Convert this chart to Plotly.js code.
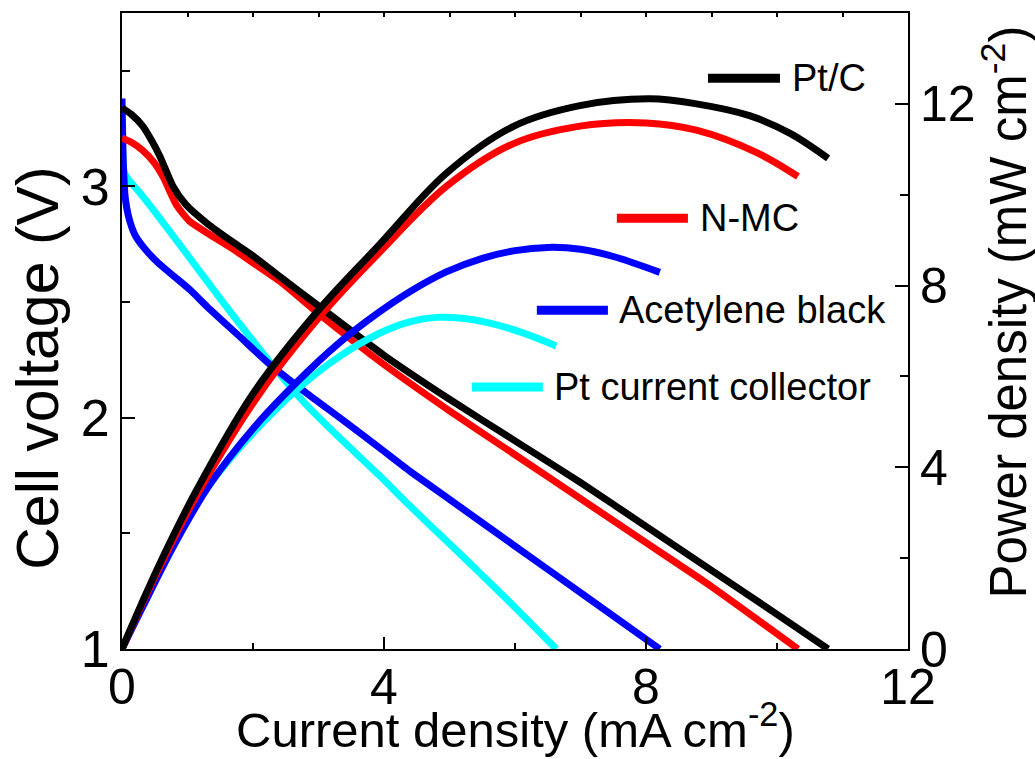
<!DOCTYPE html>
<html>
<head>
<meta charset="utf-8">
<script src="https://cdn.plot.ly/plotly-3.0.1.min.js"></script>
<style>html,body{margin:0;padding:0;background:#fff;}#chart{width:1035px;height:759px;}</style>
</head>
<body>
<div id="chart"></div>
<script>
// ---- Data ----
const seriesNames = ["Pt/C", "N-MC", "Acetylene black", "Pt current collector"];
const seriesColors = ["#000000", "#ff0000", "#0000ff", "#00ffff"];

// Cell voltage (V) vs current density (mA cm-2)
const ptcVoltI = [0, 0.15, 0.32, 0.45, 0.58, 0.78, 0.98, 1.3, 1.69, 2.0, 2.41, 2.97, 4.0, 5.0, 6.0, 7.0, 8.0, 9.0, 10.0, 10.78];
const ptcVolt  = [3.34, 3.31, 3.26, 3.20, 3.13, 3.00, 2.92, 2.84, 2.76, 2.70, 2.61, 2.49, 2.27, 2.08, 1.90, 1.72, 1.53, 1.34, 1.15, 1.0];

const nmcVoltI = [0, 0.15, 0.32, 0.5, 0.63, 0.83, 1.03, 1.35, 1.69, 2.0, 2.41, 3.0, 4.0, 5.0, 6.0, 7.0, 8.0, 9.0, 10.32];
const nmcVolt  = [3.21, 3.19, 3.155, 3.10, 3.04, 2.92, 2.85, 2.79, 2.73, 2.67, 2.59, 2.45, 2.23, 2.03, 1.84, 1.65, 1.46, 1.27, 1.0];

const abVoltI = [0, 0.02, 0.05, 0.1, 0.2, 0.35, 0.55, 0.8, 1.05, 1.3, 1.8, 2.26, 2.8, 3.37, 3.93, 4.39, 5.0, 6.0, 7.0, 8.21];
const abVolt  = [3.38, 3.10, 2.95, 2.87, 2.79, 2.73, 2.67, 2.61, 2.55, 2.48, 2.35, 2.23, 2.11, 1.99, 1.87, 1.77, 1.647, 1.445, 1.244, 1.0];

const pccVoltI = [0, 0.015, 0.035, 0.1, 0.25, 0.42, 0.93, 1.54, 2.26, 2.8, 3.37, 3.93, 4.39, 5.0, 5.46, 6.0, 6.63];
const pccVolt  = [3.23, 3.12, 3.06, 3.03, 2.98, 2.92, 2.73, 2.50, 2.24, 2.06, 1.90, 1.75, 1.62, 1.455, 1.33, 1.18, 1.0];

// Power density (mW cm-2) vs current density (mA cm-2)
const ptcPowI = [0, 0.3, 0.6, 1.14, 2.0, 2.97, 3.93, 4.95, 5.97, 6.99, 8.06, 8.77, 9.58, 10.2, 10.78];
const ptcPow  = [0, 1.0, 1.95, 3.5, 5.62, 7.41, 8.9, 10.47, 11.5, 11.96, 12.11, 12.0, 11.74, 11.35, 10.8];

const nmcPowI = [0, 0.3, 0.6, 1.14, 2.1, 3.07, 3.95, 4.95, 5.97, 6.99, 8.0, 8.77, 9.7, 10.32];
const nmcPow  = [0, 0.97, 1.88, 3.38, 5.62, 7.4, 8.76, 10.18, 11.12, 11.51, 11.58, 11.42, 10.92, 10.4];

const abPowI = [0, 0.3, 0.8, 1.34, 2.0, 2.66, 3.3, 3.93, 4.4, 4.95, 5.5, 6.0, 6.5, 7.0, 7.5, 8.21];
const abPow  = [0, 0.88, 2.3, 3.62, 4.85, 5.86, 6.72, 7.42, 7.87, 8.3, 8.6, 8.77, 8.84, 8.8, 8.64, 8.29];

const pccPowI = [0, 0.3, 0.83, 1.3, 1.85, 2.3, 2.66, 3.3, 3.93, 4.39, 4.8, 5.2, 5.6, 6.1, 6.63];
const pccPow  = [0, 0.97, 2.5, 3.55, 4.52, 5.2, 5.7, 6.42, 6.95, 7.2, 7.3, 7.28, 7.18, 6.97, 6.67];

// Axis ticks
const xTicks = [0, 4, 8, 12];
const yLeftTicks = [1, 2, 3];
const yRightTicks = [0, 4, 8, 12];

// ---- Chart ----
const FONT = "Liberation Sans, Arial, Helvetica, sans-serif";
const LW = 7;

const voltI = [ptcVoltI, nmcVoltI, abVoltI, pccVoltI];
const voltV = [ptcVolt, nmcVolt, abVolt, pccVolt];
const powI = [ptcPowI, nmcPowI, abPowI, pccPowI];
const powP = [ptcPow, nmcPow, abPow, pccPow];

const traces = [];
// draw in reverse order so black ends on top
for (let k = 3; k >= 0; k--) {
  traces.push({x: voltI[k], y: voltV[k], type: "scatter", mode: "lines", name: seriesNames[k],
    line: {color: seriesColors[k], width: LW, shape: "spline", smoothing: 0.6}, xaxis: "x", yaxis: "y", showlegend: false, hoverinfo: "skip"});
  traces.push({x: powI[k], y: powP[k], type: "scatter", mode: "lines", name: seriesNames[k],
    line: {color: seriesColors[k], width: LW, shape: "spline", smoothing: 1}, xaxis: "x", yaxis: "y2", showlegend: false, hoverinfo: "skip"});
}

// Legend layout (paper coords)
const legLineX0 = [0.7455, 0.6296, 0.5278, 0.4451];
const legLineX1 = [0.8371, 0.7200, 0.6182, 0.5354];
const legY = [0.8974, 0.6774, 0.5328, 0.4118];
const legTextX = [0.8500, 0.7330, 0.6300, 0.5470];

const shapes = [];
const annotations = [];
for (let k = 0; k < 4; k++) {
  shapes.push({type: "line", xref: "paper", yref: "paper", x0: legLineX0[k], x1: legLineX1[k], y0: legY[k], y1: legY[k],
    line: {color: seriesColors[k], width: 9}});
  annotations.push({xref: "paper", yref: "paper", x: legTextX[k], y: legY[k], xanchor: "left", yanchor: "middle",
    text: seriesNames[k], showarrow: false, font: {family: FONT, size: 38, color: "#000"}});
}
annotations.push({xref: "paper", yref: "paper", x: 0.501, y: -0.121, xanchor: "center", yanchor: "middle",
  text: "Current density (mA cm<sup>-2</sup>)", showarrow: false, font: {family: FONT, size: 49, color: "#000"}});
annotations.push({xref: "paper", yref: "paper", x: -0.107, y: 0.442, xanchor: "center", yanchor: "middle", textangle: -90,
  text: "Cell voltage (V)", showarrow: false, font: {family: FONT, size: 59, color: "#000"}});
annotations.push({xref: "paper", yref: "paper", x: 1.123, y: 0.530, xanchor: "center", yanchor: "middle", textangle: -90,
  text: "Power density (mW cm<sup>-2</sup>)", showarrow: false, font: {family: FONT, size: 51, color: "#000"}});

const layout = {
  width: 1035, height: 759,
  margin: {l: 122, r: 127, t: 13, b: 110, pad: 0},
  paper_bgcolor: "#fff", plot_bgcolor: "#fff",
  font: {family: FONT, color: "#000"},
  xaxis: {range: [0, 12], tickvals: xTicks, ticks: "inside", ticklen: 12, tickwidth: 2, tickcolor: "#000",
    minor: {dtick: 2, tick0: 0, ticks: "inside", ticklen: 6, tickwidth: 2, tickcolor: "#000", showgrid: false},
    showline: true, linewidth: 2, linecolor: "#000", mirror: false, showgrid: false, zeroline: false,
    ticklabelstandoff: -7,
    tickfont: {family: FONT, size: 50, color: "#000"}},
  xaxis2: {range: [0, 12], overlaying: "x", side: "top", dtick: 1, tick0: 0, ticks: "inside", ticklen: 4, tickwidth: 2,
    tickcolor: "#000", showticklabels: false, showline: true, linewidth: 2, linecolor: "#000", showgrid: false, zeroline: false},
  yaxis: {range: [1, 3.75], tickvals: yLeftTicks, ticks: "inside", ticklen: 13, tickwidth: 2, tickcolor: "#000",
    minor: {dtick: 0.5, tick0: 1, ticks: "inside", ticklen: 8, tickwidth: 2, tickcolor: "#000", showgrid: false},
    showline: true, linewidth: 2, linecolor: "#000", showgrid: false, zeroline: false,
    tickfont: {family: FONT, size: 52, color: "#000"}},
  yaxis2: {range: [0, 14], overlaying: "y", side: "right", tickvals: yRightTicks, ticks: "inside", ticklen: 13, tickwidth: 2, tickcolor: "#000",
    minor: {dtick: 2, tick0: 0, ticks: "inside", ticklen: 8, tickwidth: 2, tickcolor: "#000", showgrid: false},
    showline: true, linewidth: 2, linecolor: "#000", showgrid: false, zeroline: false,
    tickfont: {family: FONT, size: 50, color: "#000"}},
  shapes: shapes,
  annotations: annotations,
  showlegend: false
};

// invisible trace to activate the top axis
traces.push({x: [0, 12], y: [1, 1], xaxis: "x2", yaxis: "y", mode: "lines", line: {width: 0}, showlegend: false, hoverinfo: "skip"});

Plotly.newPlot("chart", traces, layout, {displayModeBar: false, staticPlot: true});
</script>
</body>
</html>
